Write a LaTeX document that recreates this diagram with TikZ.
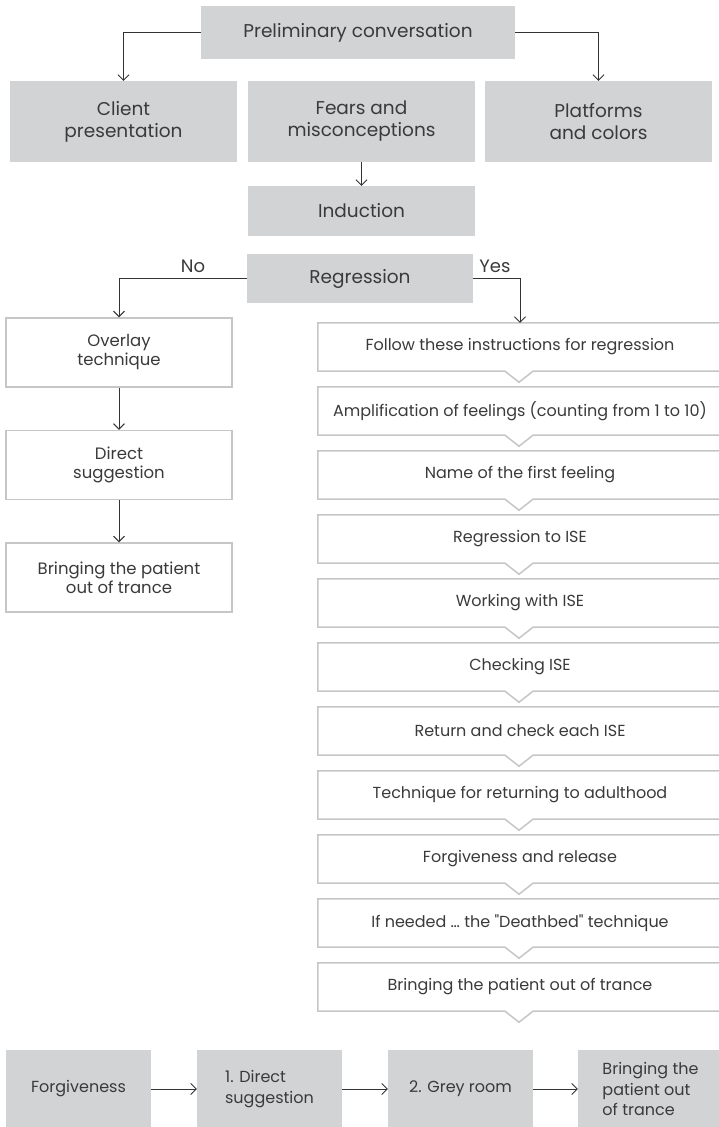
\documentclass[tikz,border=0pt]{standalone}
\usepackage{fontspec}
\setmainfont{Poppins}
\usetikzlibrary{arrows.meta,calc}
\definecolor{boxfill}{HTML}{D1D3D4}
\definecolor{txt}{HTML}{3A3A3A}
\definecolor{edge}{HTML}{C4C6C8}
\definecolor{conn}{HTML}{333333}
\begin{document}
\begin{tikzpicture}[x=1pt,y=-1pt,
  greybox/.style={fill=boxfill, text=txt, align=center, inner sep=0pt, font=\fontsize{18.5}{22}\selectfont},
  whitebox/.style={draw=edge, line width=1.5pt, fill=white, text=txt, align=center, inner sep=0pt,
    minimum width=226, minimum height=69, font=\fontsize{16.5}{19}\selectfont},
  rbox/.style={text=txt, align=center, inner sep=0pt, minimum width=404, minimum height=48,
    font=\fontsize{16}{18}\selectfont},
  outline/.style={draw=edge, line width=1.5pt, line join=miter},
  botbox/.style={fill=boxfill, text=txt, inner sep=0pt, minimum width=145, minimum height=78,
    font=\fontsize{16}{20.5}\selectfont},
  arr/.style={draw=conn, line width=0.9pt, -{Straight Barb[length=5.5pt,width=11pt]}},
  lbl/.style={text=txt, inner sep=0pt, font=\fontsize{18}{20}\selectfont}]
\useasboundingbox (0,0) rectangle (719,1127);

% top
\node[greybox, minimum width=314, minimum height=53] (pre) at (358,32.5) {Preliminary conversation};
\node[greybox, minimum width=227, minimum height=81] (client) at (123.5,121.5) {Client\\presentation};
\node[greybox, minimum width=227, minimum height=81] (fears) at (361.5,121.5) {Fears and\\misconceptions};
\node[greybox, minimum width=227, minimum height=81] (plat) at (598.5,121.5) {Platforms\\and colors};
\node[greybox, minimum width=227, minimum height=50] (ind) at (361.5,211) {Induction};
\node[greybox, minimum width=226, minimum height=49] (reg) at (360,278.5) {Regression};

\draw[arr] (pre.west) -| (client.north);
\draw[arr] (pre.east) -| (plat.north);
\draw[arr] (fears) -- (ind);

% left column
\node[whitebox] (ov) at (119,352.5) {Overlay\\technique};
\node[whitebox] (ds) at (119,465) {Direct\\suggestion};
\node[whitebox] (bo) at (119,577.5) {Bringing the patient\\out of trance};
\draw[arr] (ov) -- (ds);
\draw[arr] (ds) -- (bo);

\node[lbl] (no) at (193,266) {No};
\node[lbl] (yes) at (495,266) {Yes};

% right column
\foreach \t [count=\i from 0] in {
  Follow these instructions for regression,
  Amplification of feelings (counting from 1 to 10),
  Name of the first feeling,
  Regression to ISE,
  Working with ISE,
  Checking ISE,
  Return and check each ISE,
  Technique for returning to adulthood,
  Forgiveness and release,
  If needed \ldots\ the \textquotedbl Deathbed\textquotedbl\ technique,
  Bringing the patient out of trance}{
  \node[rbox] (r\i) at (520,347+64*\i) {\t};
  \draw[outline] (r\i.north east) -- (r\i.north west) -- (r\i.south west)
    -- ($(r\i.south)+(-15,0)$) -- ++(14,11) -- ++(14,-11) -- (r\i.south east);
}

\draw[arr] (reg.west) -| (ov.north);
\draw[arr] (reg.east) -| (r0.north);

% bottom row
\node[botbox] (b1) at (78.5,1089) {Forgiveness};
\node[botbox, align=left] (b2) at (269.5,1089) {1. Direct\\suggestion};
\node[botbox] (b3) at (460.5,1089) {2. Grey room};
\node[botbox, align=left] (b4) at (650.5,1089) {Bringing the\\patient out\\of trance};
\draw[arr] (b1) -- (b2);
\draw[arr] (b2) -- (b3);
\draw[arr] (b3) -- (b4);
\end{tikzpicture}
\end{document}
